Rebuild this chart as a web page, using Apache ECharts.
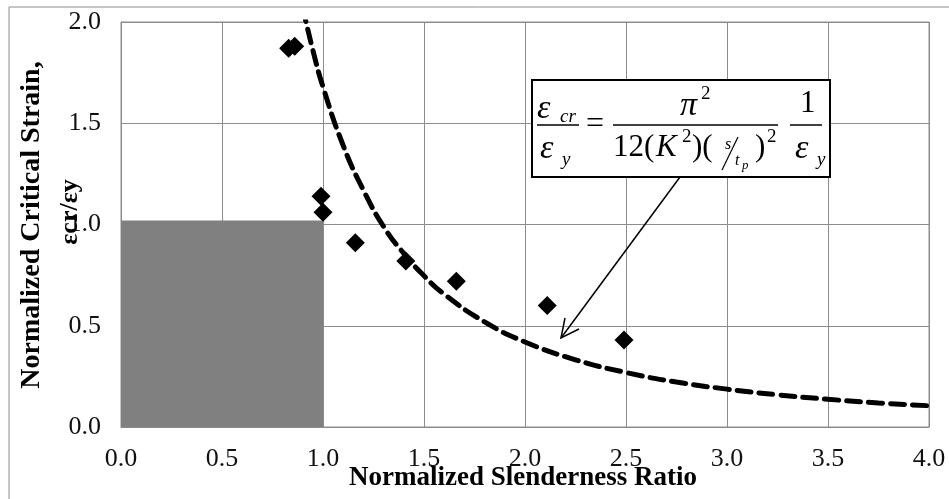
<!DOCTYPE html>
<html>
<head>
<meta charset="utf-8">
<script src="https://cdn.jsdelivr.net/npm/echarts/dist/echarts.min.js"></script>
<style>
  html, body { margin: 0; padding: 0; background: #fff; }
  #chart { width: 949px; height: 499px; }
</style>
</head>
<body>
<div id="chart"></div>
<script>
// measured points (normalized slenderness, normalized critical strain)
const testX = [0.83, 0.86, 0.99, 1.0, 1.16, 1.41, 1.66, 2.11, 2.49]
const testY = [1.87, 1.88, 1.14, 1.06, 0.91, 0.82, 0.72, 0.60, 0.43]

// dashed theory curve
const curveX = [0.9, 0.95, 1.0, 1.1, 1.2, 1.3, 1.4, 1.5, 1.6, 1.8, 2.0, 2.25, 2.5, 2.75, 3.0, 3.25, 3.5, 3.75, 4.0]
const curveY = [2.07, 1.86, 1.68, 1.39, 1.17, 0.99, 0.857, 0.747, 0.656, 0.519, 0.42, 0.332, 0.269, 0.222, 0.187, 0.159, 0.137, 0.119, 0.105]

// grey region
const zoneX = [0, 1.0]
const zoneY = [0, 1.02]

const xTicks = ['0.0', '0.5', '1.0', '1.5', '2.0', '2.5', '3.0', '3.5', '4.0']
const yTicks = ['0.0', '0.5', '1.0', '1.5', '2.0']

const serif = '"Liberation Serif", "DejaVu Serif", serif'
const chart = echarts.init(document.getElementById('chart'))

const txt = (x, y, s, size, italic) => ({
  type: 'text', x: x, y: y, z: 101,
  style: {
    text: s, fill: '#000',
    font: (italic ? 'italic ' : '') + size + 'px ' + serif,
    textAlign: 'left', textVerticalAlign: 'middle'
  }
})
const seg = (x1, y1, x2, y2, w) => ({
  type: 'line', z: 101,
  shape: { x1: x1, y1: y1, x2: x2, y2: y2 },
  style: { stroke: '#000', lineWidth: w || 1.5 }
})

const option = {
  animation: false,
  grid: { left: 121, top: 22, right: 20, bottom: 72, show: true, borderColor: '#8c8c8c', borderWidth: 1 },
  xAxis: {
    type: 'value', min: 0, max: 4, interval: 0.5,
    axisLine: { show: true, lineStyle: { color: '#8c8c8c' } },
    axisTick: { show: false },
    axisLabel: {
      margin: 19, color: '#111', fontSize: 26, fontFamily: serif,
      formatter: v => xTicks[Math.round(v / 0.5)]
    },
    splitLine: { lineStyle: { color: '#8c8c8c' } }
  },
  yAxis: {
    type: 'value', min: 0, max: 2, interval: 0.5,
    axisLine: { show: true, lineStyle: { color: '#8c8c8c' } },
    axisTick: { show: false },
    axisLabel: {
      margin: 20, color: '#111', fontSize: 26, fontFamily: serif,
      formatter: v => yTicks[Math.round(v / 0.5)]
    },
    splitLine: { lineStyle: { color: '#8c8c8c' } }
  },
  series: [
    {
      type: 'line',
      data: [],
      markArea: {
        silent: true,
        itemStyle: { color: '#808080', opacity: 1 },
        data: [[{ coord: [zoneX[0], zoneY[0]] }, { coord: [zoneX[1], zoneY[1]] }]]
      }
    },
    {
      type: 'line',
      data: curveX.map((x, i) => [x, curveY[i]]),
      smooth: true,
      showSymbol: false,
      clip: true,
      lineStyle: { color: '#000', width: 5, type: [14, 8], cap: 'round' },
      z: 3
    },
    {
      type: 'scatter',
      data: testX.map((x, i) => [x, testY[i]]),
      symbol: 'diamond',
      symbolSize: 19,
      itemStyle: { color: '#000', opacity: 1 },
      z: 4
    }
  ],
  graphic: [
    // outer chart border
    { type: 'rect', shape: { x: 9, y: 7, width: 960, height: 520 }, style: { fill: 'none', stroke: '#8c8c8c', lineWidth: 1 }, z: 100 },
    // axis titles
    {
      type: 'text', x: 523, y: 478, z: 101,
      style: { text: 'Normalized Slenderness Ratio', fill: '#000', font: 'bold 27px ' + serif, textAlign: 'center', textVerticalAlign: 'middle' }
    },
    {
      type: 'text', x: 32, y: 225, rotation: Math.PI / 2, z: 101,
      style: { text: 'Normalized Critical Strain,', fill: '#000', font: 'bold 28px ' + serif, textAlign: 'center', textVerticalAlign: 'middle' }
    },
    {
      type: 'text', x: 70, y: 212, rotation: Math.PI / 2, z: 101,
      style: { text: 'εcr/εy', fill: '#000', font: 'bold 26px ' + serif, textAlign: 'center', textVerticalAlign: 'middle' }
    },
    // formula box
    { type: 'rect', shape: { x: 532, y: 80, width: 298, height: 97 }, style: { fill: '#fff', stroke: '#000', lineWidth: 2 }, z: 100 },
    txt(537, 109, 'ε', 34, true), txt(560, 117, 'cr', 19, true),
    seg(537, 125, 579, 125),
    txt(540, 149, 'ε', 34, true), txt(562, 160, 'y', 19, true),
    txt(586, 125, '=', 32, false),
    txt(680, 106, 'π', 34, true), txt(701, 94, '2', 19, false),
    seg(613, 125, 778, 125),
    txt(613, 148, '12(', 31, false),
    txt(656, 148, 'K', 31, true), txt(682, 137, '2', 19, false),
    txt(692, 148, ')(', 31, false),
    txt(725, 145, 's', 16, true),
    seg(722, 170, 738, 137, 1.2),
    txt(735, 161, 't', 16, true), txt(742, 166, 'p', 13, true),
    txt(755, 148, ')', 31, false), txt(767, 137, '2', 19, false),
    txt(800, 104, '1', 31, false),
    seg(790, 125, 822, 125),
    txt(795, 149, 'ε', 34, true), txt(817, 160, 'y', 19, true),
    // arrow
    seg(680, 177, 561, 338, 1.5),
    {
      type: 'polyline', z: 101,
      shape: { points: [[565, 318], [561, 338], [579, 329]] },
      style: { stroke: '#000', lineWidth: 1.5, fill: 'none' }
    }
  ]
}

chart.setOption(option)
window.addEventListener('resize', () => chart.resize())
</script>
</body>
</html>
